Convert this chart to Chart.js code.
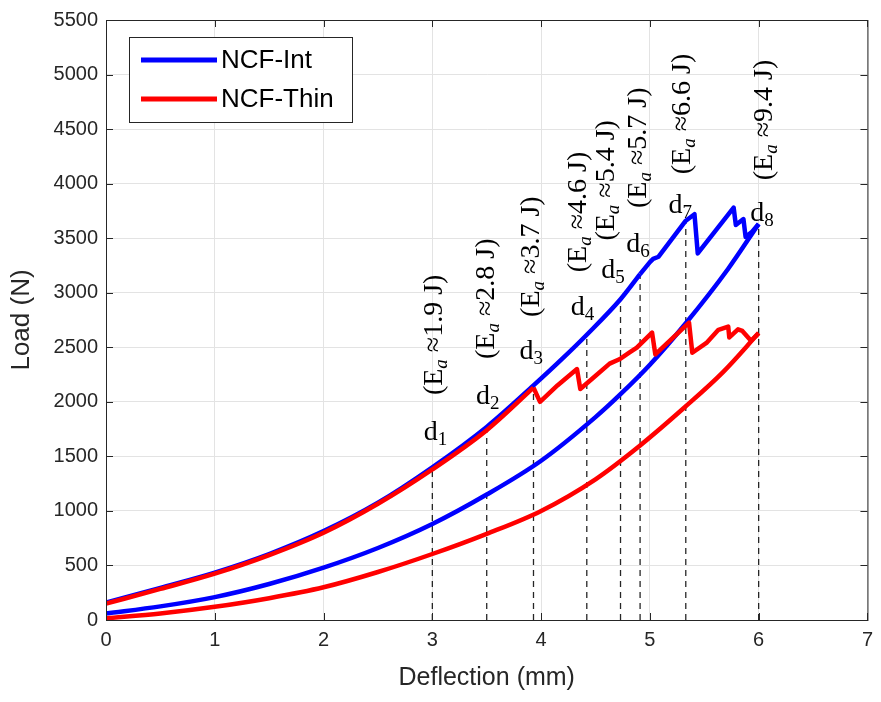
<!DOCTYPE html>
<html lang="en">
<head>
<meta charset="UTF-8" />
<title>Load vs Deflection</title>
<script src="https://cdn.jsdelivr.net/npm/chart.js@4.4.0/dist/chart.umd.min.js"></script>
<style>
  html, body { margin: 0; padding: 0; background: #fff; }
</style>
</head>
<body>
<canvas id="loadChart" width="881" height="702"></canvas>
<script>
// NCF-Int (blue): loading branch and unloading branch
const intLoadX = [0, 0.5, 1, 1.5, 2, 2.5, 3, 3.5, 3.93, 4.2, 4.42, 4.73, 4.91, 5.0, 5.03, 5.08, 5.33, 5.41, 5.44, 5.77, 5.79, 5.86, 5.88, 5.94, 6.0];
const intLoadY = [160, 295, 435, 605, 815, 1075, 1400, 1770, 2150, 2400, 2615, 2940, 3170, 3280, 3310, 3330, 3660, 3720, 3360, 3780, 3620, 3675, 3510, 3560, 3630];
const intUnloadX = [0, 0.5, 1.0, 1.5, 2.0, 2.5, 3.0, 3.5, 4.0, 4.5, 4.73, 5.0, 5.33, 5.72, 6.0];
const intUnloadY = [60, 125, 210, 330, 480, 660, 880, 1150, 1460, 1860, 2070, 2340, 2720, 3220, 3630];

// NCF-Thin (red)
const thinLoadX = [0, 0.5, 1, 1.5, 2, 2.5, 3, 3.5, 3.93, 3.99, 4.15, 4.33, 4.36, 4.48, 4.63, 4.72, 4.81, 4.88, 5.02, 5.05, 5.36, 5.39, 5.52, 5.63, 5.72, 5.73, 5.81, 5.85, 5.93, 6.0];
const thinLoadY = [150, 285, 425, 595, 800, 1065, 1380, 1740, 2130, 2000, 2150, 2300, 2118, 2220, 2350, 2390, 2450, 2496, 2635, 2435, 2725, 2450, 2540, 2660, 2690, 2590, 2665, 2650, 2560, 2630];
const thinUnloadX = [0, 0.5, 1.0, 1.5, 2.0, 2.5, 3.0, 3.5, 4.0, 4.5, 4.91, 5.32, 5.67, 6.0];
const thinUnloadY = [15, 60, 121, 200, 300, 440, 605, 790, 1000, 1290, 1600, 1950, 2270, 2630];

// index where the loading branch stops being smooth (first load drop)
const intSmoothEnd = 12;
const thinSmoothEnd = 8;

// damage markers d1..d8
const markX = [3.0, 3.5, 3.93, 4.42, 4.73, 4.91, 5.33, 6.0];
const markTop = [1400, 1770, 2150, 2615, 2940, 3170, 3660, 3630];
const markLabelX = [3.03, 3.51, 3.91, 4.38, 4.66, 4.89, 5.28, 6.03];
const markLabelY = [1715, 2042, 2460, 2859, 3195, 3440, 3794, 3721];
const energyJ = ['1.9', '2.8', '3.7', '4.6', '5.4', '5.7', '6.6', '9.4'];
const energyX = [3.01, 3.48, 3.90, 4.33, 4.59, 4.88, 5.29, 6.04];
const energyY = [2614, 2945, 3331, 3740, 4030, 4329, 4638, 4583];

const legendLabels = ['NCF-Int', 'NCF-Thin'];
const legendColors = ['#0000ff', '#ff0000'];

const toPoints = (xs, ys) => xs.map((x, i) => ({ x: x, y: ys[i] }));

const curve = (label, xs, ys, color, order, smooth) => ({
  label: label,
  data: toPoints(xs, ys),
  borderColor: color,
  borderWidth: 4.5,
  cubicInterpolationMode: smooth ? 'monotone' : 'default',
  tension: 0,
  order: order
});

const datasets = [
  curve('NCF-Int loading', intLoadX.slice(0, intSmoothEnd + 1), intLoadY.slice(0, intSmoothEnd + 1), legendColors[0], 2, true),
  curve('NCF-Int loading (damage)', intLoadX.slice(intSmoothEnd), intLoadY.slice(intSmoothEnd), legendColors[0], 2, false),
  curve('NCF-Int unloading', intUnloadX, intUnloadY, legendColors[0], 2, true),
  curve('NCF-Thin loading', thinLoadX.slice(0, thinSmoothEnd + 1), thinLoadY.slice(0, thinSmoothEnd + 1), legendColors[1], 1, true),
  curve('NCF-Thin loading (damage)', thinLoadX.slice(thinSmoothEnd), thinLoadY.slice(thinSmoothEnd), legendColors[1], 1, false),
  curve('NCF-Thin unloading', thinUnloadX, thinUnloadY, legendColors[1], 1, true)
];
markX.forEach((x, i) => {
  datasets.push({
    label: 'd' + (i + 1),
    data: [{ x: x, y: 0 }, { x: x, y: markTop[i] }],
    borderColor: '#262626',
    borderWidth: 1.3,
    borderDash: [6, 5],
    order: 3
  });
});

const serif = '"Liberation Serif", "DejaVu Serif", serif';
const sans = '"Liberation Sans", Arial, sans-serif';

// inward ticks, box, annotations and legend (MATLAB look)
const decorations = {
  id: 'decorations',
  afterDraw(chart) {
    const { ctx, chartArea: a, scales: { x, y } } = chart;
    ctx.save();

    // box + inward ticks
    ctx.strokeStyle = '#262626';
    ctx.lineWidth = 1;
    ctx.strokeRect(a.left + 0.5, a.top + 0.5, a.right - a.left, a.bottom - a.top);
    ctx.beginPath();
    x.ticks.forEach(t => {
      const px = Math.round(x.getPixelForValue(t.value)) + 0.5;
      ctx.moveTo(px, a.bottom); ctx.lineTo(px, a.bottom - 7);
      ctx.moveTo(px, a.top); ctx.lineTo(px, a.top + 7);
    });
    y.ticks.forEach(t => {
      const py = Math.round(y.getPixelForValue(t.value)) + 0.5;
      ctx.moveTo(a.left, py); ctx.lineTo(a.left + 7, py);
      ctx.moveTo(a.right, py); ctx.lineTo(a.right - 7, py);
    });
    ctx.stroke();

    // d labels
    ctx.fillStyle = '#000';
    ctx.textBaseline = 'alphabetic';
    ctx.textAlign = 'left';
    markX.forEach((_, i) => {
      const cx = x.getPixelForValue(markLabelX[i]);
      const cy = y.getPixelForValue(markLabelY[i]);
      ctx.font = '28px ' + serif;
      const wd = ctx.measureText('d').width;
      ctx.font = '19px ' + serif;
      const ws = ctx.measureText(String(i + 1)).width;
      const x0 = cx - (wd + ws) / 2;
      const base = cy + 7;
      ctx.font = '28px ' + serif;
      ctx.fillText('d', x0, base);
      ctx.font = '19px ' + serif;
      ctx.fillText(String(i + 1), x0 + wd, base + 5);
    });

    // rotated energy labels
    energyJ.forEach((val, i) => {
      const cx = x.getPixelForValue(energyX[i]);
      const cy = y.getPixelForValue(energyY[i]);
      const parts = [
        ['(E', '28px ' + serif, 0],
        ['a', 'italic 19px ' + serif, 5],
        [' \u2248' + val + ' J)', '28px ' + serif, 0]
      ];
      let w = 0;
      parts.forEach(p => { ctx.font = p[1]; w += ctx.measureText(p[0]).width; });
      ctx.save();
      ctx.translate(cx, cy);
      ctx.rotate(-Math.PI / 2);
      let u = -w / 2;
      parts.forEach(p => {
        ctx.font = p[1];
        ctx.fillText(p[0], u, 9 + p[2]);
        u += ctx.measureText(p[0]).width;
      });
      ctx.restore();
    });

    // legend box
    const lx = 129, ly = 37, lw = 223, lh = 85;
    ctx.fillStyle = '#fff';
    ctx.fillRect(lx, ly, lw, lh);
    ctx.strokeStyle = '#262626';
    ctx.lineWidth = 1;
    ctx.strokeRect(lx + 0.5, ly + 0.5, lw, lh);
    ctx.font = '26px ' + sans;
    ctx.textBaseline = 'middle';
    legendLabels.forEach((label, i) => {
      const yy = ly + 23 + i * 39;
      ctx.strokeStyle = legendColors[i];
      ctx.lineWidth = 5;
      ctx.beginPath();
      ctx.moveTo(lx + 12, yy);
      ctx.lineTo(lx + 88, yy);
      ctx.stroke();
      ctx.fillStyle = '#000';
      ctx.fillText(label, lx + 92, yy + 1);
    });

    ctx.restore();
  }
};

new Chart(document.getElementById('loadChart'), {
  type: 'line',
  data: { datasets: datasets },
  options: {
    responsive: false,
    animation: false,
    elements: {
      point: { radius: 0 },
      line: { borderJoinStyle: 'round', borderCapStyle: 'butt' }
    },
    layout: { padding: { top: 14, right: 9, left: 0, bottom: 0 } },
    plugins: { legend: { display: false }, tooltip: { enabled: false } },
    scales: {
      x: {
        type: 'linear',
        min: 0, max: 7,
        ticks: { stepSize: 1, color: '#262626', padding: 8, font: { family: sans, size: 20 } },
        grid: { color: '#e3e3e3', drawTicks: false },
        border: { color: '#262626' },
        title: { display: true, text: 'Deflection (mm)', color: '#262626', font: { family: sans, size: 25 }, padding: { top: 2, bottom: 9 } },
        afterFit: s => { s.height = 82; }
      },
      y: {
        type: 'linear',
        min: 0, max: 5500,
        ticks: { stepSize: 500, color: '#262626', padding: 8, font: { family: sans, size: 20 }, callback: v => String(v) },
        grid: { color: '#e3e3e3', drawTicks: false },
        border: { color: '#262626' },
        title: { display: true, text: 'Load (N)', color: '#262626', font: { family: sans, size: 26 }, padding: { top: 6, bottom: 0 } },
        afterFit: s => { s.width = 106; }
      }
    }
  },
  plugins: [decorations]
});
</script>
</body>
</html>
